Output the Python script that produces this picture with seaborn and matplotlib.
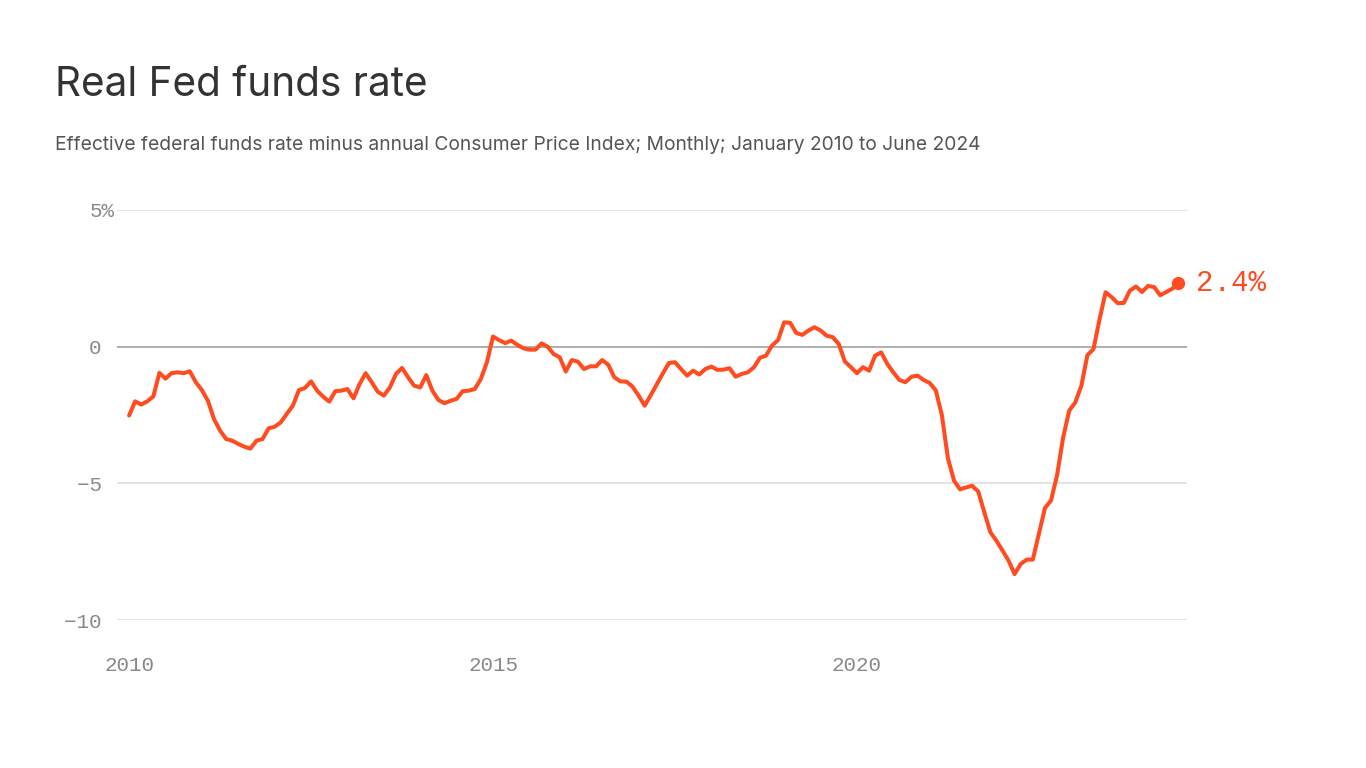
# Real Fed funds rate, monthly 2010-01 to 2024-06
import pandas as pd
import matplotlib.pyplot as plt
import seaborn as sns

# effective fed funds rate minus annual CPI (percent)
rate_2010 = [-2.52, -2.0, -2.12, -2.0, -1.82, -0.96, -1.17, -0.97, -0.94, -0.97, -0.9, -1.3]
rate_2011 = [-1.59, -1.98, -2.65, -3.07, -3.38, -3.44, -3.56, -3.66, -3.73, -3.44, -3.38, -2.99]
rate_2012 = [-2.93, -2.77, -2.46, -2.16, -1.59, -1.51, -1.27, -1.61, -1.83, -2.01, -1.63, -1.61]
rate_2013 = [-1.55, -1.89, -1.37, -0.97, -1.3, -1.65, -1.79, -1.49, -1.0, -0.78, -1.12, -1.43]
rate_2014 = [-1.49, -1.04, -1.61, -1.95, -2.07, -1.98, -1.91, -1.63, -1.61, -1.55, -1.18, -0.57]
rate_2015 = [0.37, 0.24, 0.13, 0.22, 0.07, -0.06, -0.11, -0.11, 0.12, 0.0, -0.27, -0.39]
rate_2016 = [-0.91, -0.49, -0.55, -0.82, -0.72, -0.72, -0.49, -0.66, -1.12, -1.27, -1.28, -1.46]
rate_2017 = [-1.79, -2.16, -1.78, -1.38, -0.98, -0.6, -0.57, -0.82, -1.06, -0.88, -1.02, -0.82]
rate_2018 = [-0.73, -0.85, -0.84, -0.79, -1.1, -1.0, -0.94, -0.76, -0.41, -0.33, 0.04, 0.24]
rate_2019 = [0.89, 0.87, 0.5, 0.43, 0.59, 0.71, 0.59, 0.4, 0.35, 0.1, -0.54, -0.75]
rate_2020 = [-0.97, -0.75, -0.88, -0.33, -0.21, -0.63, -0.94, -1.22, -1.3, -1.1, -1.06, -1.22]
rate_2021 = [-1.33, -1.6, -2.5, -4.08, -4.9, -5.22, -5.15, -5.09, -5.3, -6.06, -6.79, -7.1]
rate_2022 = [-7.46, -7.83, -8.32, -7.95, -7.79, -7.79, -6.85, -5.9, -5.63, -4.7, -3.32, -2.34]
rate_2023 = [-2.04, -1.43, -0.31, -0.09, 1.0, 1.99, 1.81, 1.59, 1.6, 2.05, 2.2, 2.0]
rate_2024 = [2.22, 2.18, 1.88, 2.0, 2.12, 2.32]

first_year = 2010
last_label = "2.4%"

x_ticks = [2010, 2015, 2020]
y_ticks = [-10, -5, 0, 5]
# trailing space keeps the digits lined up, with "%" hanging out
y_labels = ["\u221210 ", "\u22125 ", "0 ", "5%"]

values = (rate_2010 + rate_2011 + rate_2012 + rate_2013 + rate_2014 + rate_2015 + rate_2016
          + rate_2017 + rate_2018 + rate_2019 + rate_2020 + rate_2021 + rate_2022 + rate_2023 + rate_2024)
df = pd.DataFrame({"year": [first_year + i / 12 for i in range(len(values))], "rate": values})

line_color = "#FF4B1F"
mono = ["Liberation Mono", "DejaVu Sans Mono"]

sns.set_style("white")
plt.rcParams["font.family"] = ["Inter", "DejaVu Sans"]

fig = plt.figure(figsize=(13.66, 7.68), dpi=100)
ax = fig.add_axes([0.0857, 0.1927, 0.7830, 0.5339])

sns.lineplot(data=df, x="year", y="rate", color=line_color, linewidth=2.9, ax=ax)

# end point and label
last = df.iloc[-1]
ax.plot(last["year"], last["rate"], "o", color=line_color, markersize=8.5, clip_on=False)
ax.annotate(last_label, (last["year"], last["rate"]), xytext=(13, 0), textcoords="offset points",
            va="center", ha="left", fontsize=21, color=line_color, family=mono, annotation_clip=False)

ax.set_xlim(2009.835, 2024.53)
ax.set_ylim(-10, 5)

# grid
for y in y_ticks:
    ax.axhline(y, color="#999999" if y == 0 else "#dddddd", linewidth=1.1, zorder=0)

ax.set_yticks(y_ticks)
ax.set_yticklabels(y_labels)
ax.set_xticks(x_ticks)
ax.set_xticklabels([str(t) for t in x_ticks])
ax.tick_params(axis="y", length=0, pad=2, labelsize=15, labelcolor="#888888")
ax.tick_params(axis="x", length=22, width=1.1, color="#dddddd", pad=4, labelsize=15, labelcolor="#888888",
               direction="out")
for lab in ax.get_xticklabels() + ax.get_yticklabels():
    lab.set_family(mono)

for s in ax.spines.values():
    s.set_visible(False)
ax.set_xlabel("")
ax.set_ylabel("")

fig.text(0.0403, 0.875, "Real Fed funds rate", fontsize=29.2, color="#333333", va="baseline")
fig.text(0.0403, 0.805, "Effective federal funds rate minus annual Consumer Price Index; Monthly; "
         "January 2010 to June 2024", fontsize=13.85, color="#555555", va="baseline")

fig.savefig("out.png", dpi=100)
